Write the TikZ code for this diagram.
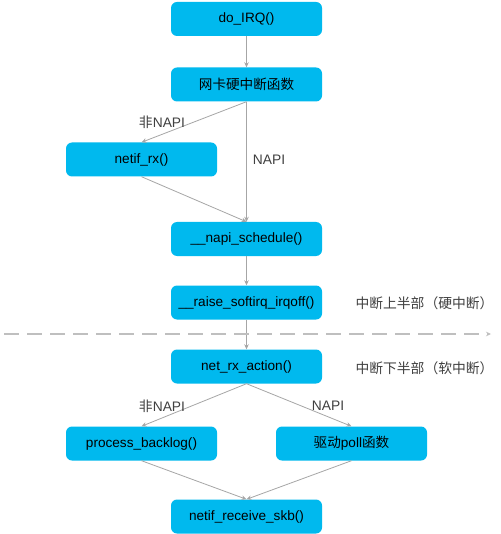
\documentclass[tikz,border=0pt]{standalone}
\usepackage{fontspec}
\setmainfont{Liberation Sans}
\newfontfamily\cjk{Noto Sans CJK SC}
\usetikzlibrary{arrows.meta}
\definecolor{boxblue}{HTML}{00B9EE}
\definecolor{arrowgray}{HTML}{A6A6A6}
\definecolor{dashgray}{HTML}{BFBFBF}
\definecolor{labelgray}{HTML}{404040}
\begin{document}
\begin{tikzpicture}[x=1pt,y=-1pt,
  fbox/.style={fill=boxblue, draw=none, rounded corners=6pt, minimum width=151pt, minimum height=34pt, inner sep=0pt, font=\fontsize{13.6}{16}\selectfont, text=black},
  conn/.style={draw=arrowgray, line width=0.8pt, -{Stealth[length=5pt,width=4.5pt]}},
  lbl/.style={font=\fontsize{13.8}{16}\selectfont, text=labelgray, inner sep=0pt}]
\useasboundingbox (0,0) rectangle (500,534);
\fill[white] (0,0) rectangle (500,534);
\node[fbox] (irq) at (246.5,19) {do\_IRQ()};
\node[fbox] (hw) at (246.5,84.5) {\cjk 网卡硬中断函数};
\node[fbox] (rx) at (141.5,159.5) {netif\_rx()};
\node[fbox] (napi) at (246.5,239) {\_\_napi\_schedule()};
\node[fbox] (raise) at (246.5,302.5) {\_\_raise\_softirq\_irqoff()};
\node[fbox] (act) at (246.5,366.5) {net\_rx\_action()};
\node[fbox] (back) at (141.5,443.5) {process\_backlog()};
\node[fbox] (poll) at (351.5,443.5) {{\cjk 驱动}poll{\cjk 函数}};
\node[fbox] (recv) at (246.5,516.5) {netif\_receive\_skb()};
\draw[conn] (irq.south) -- (hw.north);
\draw[conn] (hw.south) -- (rx.north);
\draw[conn] (hw.south) -- (napi.north);
\draw[conn] (rx.south) -- (napi.north);
\draw[conn] (napi.south) -- (raise.north);
\draw[conn] (raise.south) -- (act.north);
\draw[conn] (act.south) -- (back.north);
\draw[conn] (act.south) -- (poll.north);
\draw[conn] (back.south) -- (recv.north);
\draw[conn] (poll.south) -- (recv.north);
\coordinate (dl) at (4,334);
\coordinate (dr) at (491,334);
\draw[draw=dashgray, line width=1.2pt, dash pattern=on 15pt off 8pt, -{Stealth[length=5pt,width=4.5pt]}] (dl) -- (dr);
\node[lbl] (l1) at (162,122) {{\cjk 非}NAPI};
\node[lbl] (l2) at (269,160) {NAPI};
\node[lbl] (l3) at (162,406) {{\cjk 非}NAPI};
\node[lbl] (l4) at (328,406) {NAPI};
\node[lbl] (l5) at (424.5,303) {\cjk 中断上半部（硬中断）};
\node[lbl] (l6) at (424.5,368) {\cjk 中断下半部（软中断）};
\end{tikzpicture}
\end{document}
